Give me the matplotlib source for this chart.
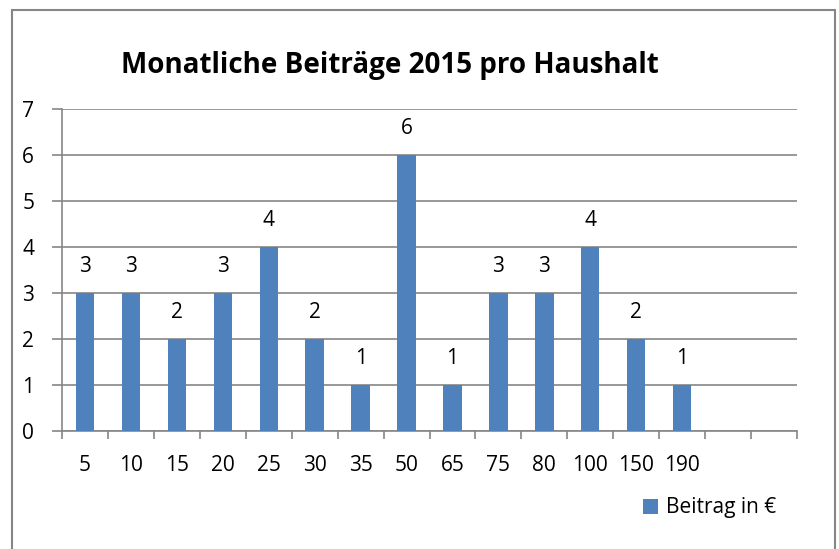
import matplotlib.pyplot as plt
from matplotlib.patches import Rectangle

categories = ['5', '10', '15', '20', '25', '30', '35', '50', '65', '75', '80', '100', '150', '190']
counts = [3, 3, 2, 3, 4, 2, 1, 6, 1, 3, 3, 4, 2, 1]
n_slots = 16  # axis has two empty slots at the end

W, H = 839, 549
fig = plt.figure(figsize=(W / 100, H / 100), dpi=100)
plt.rcParams['font.family'] = ['Open Sans', 'DejaVu Sans']
fs = 15

# plot area in pixels: x 62..797, y 109..431
ax = fig.add_axes([62 / W, 1 - 431 / H, (797 - 62) / W, (431 - 109) / H])

grey = '#868686'
x = list(range(len(categories)))
bars = ax.bar(x, counts, width=0.4, color='#4F81BD', label='Beitrag in €', zorder=3)

for xi, v in zip(x, counts):
    ax.text(xi, v + 0.57, str(v), ha='center', va='center', fontsize=fs, color='black')

ax.set_xlim(-0.5, n_slots - 0.5)
ax.set_ylim(0, 7)
ax.set_yticks(range(8))
ax.yaxis.grid(True, color=grey, linewidth=1.2, zorder=0)
ax.set_axisbelow(True)

ax.set_xticks(x)
ax.set_xticklabels(categories, fontsize=fs)
ax.tick_params(axis='x', length=0, pad=17)
ax.set_xticks([i - 0.5 for i in range(n_slots + 1)], minor=True)
ax.tick_params(axis='x', which='minor', length=6, width=1.2, color=grey, direction='out')
ax.tick_params(axis='y', length=7, width=1.2, color=grey, labelsize=fs, pad=13)

for s in ['top', 'right']:
    ax.spines[s].set_visible(False)
for s in ['left', 'bottom']:
    ax.spines[s].set_color(grey)
    ax.spines[s].set_linewidth(1.2)

fig.text(390 / W, 1 - 65 / H, 'Monatliche Beiträge 2015 pro Haushalt',
         ha='center', va='center', fontsize=20, fontweight='bold')

fig.legend(handles=[bars], loc='center', bbox_to_anchor=(710 / W, 1 - 508 / H),
           frameon=False, fontsize=fs, handlelength=0.7, handleheight=0.7,
           handletextpad=0.4, borderpad=0)

# outer chart frame (open at the bottom edge of the image)
fig.patches.append(Rectangle((12 / W, -0.05), (835 - 12) / W, 1.05 - 10 / H,
                             transform=fig.transFigure, fill=False,
                             edgecolor=grey, linewidth=1.5))

fig.savefig('out.png', dpi=100)
